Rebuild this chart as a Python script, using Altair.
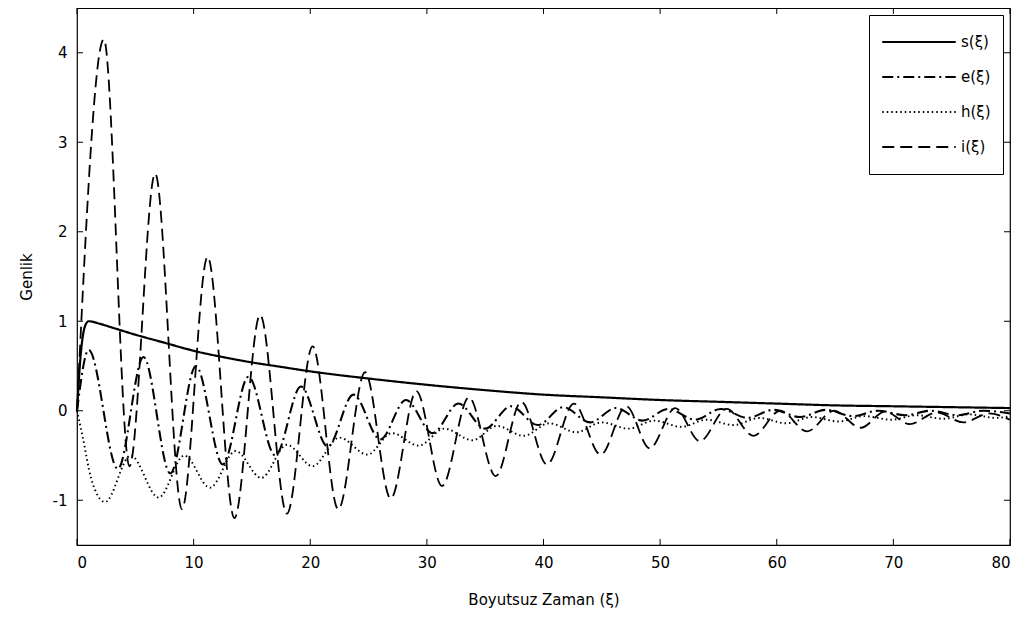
import altair as alt
import pandas as pd

# ---- data ----
series_names = ["s(ξ)", "e(ξ)", "h(ξ)", "i(ξ)"]

s_x = [0, 0.3, 0.7, 1.0, 2, 3, 5, 7.5, 10, 12.5, 15, 17.5, 20, 25, 30, 35, 40, 45, 50, 55, 60, 65, 70, 75, 80]
s_y = [0, 0.6, 0.95, 1.0, 0.97, 0.93, 0.85, 0.76, 0.67, 0.6, 0.54, 0.49, 0.44, 0.36, 0.29, 0.23, 0.18, 0.15, 0.12, 0.1, 0.08, 0.06, 0.05, 0.04, 0.03]

e_x = [0, 1.0, 3.5, 5.7, 8.0, 10.2, 12.5, 14.7, 17.0, 19.2, 21.5, 23.7, 26.0, 28.2, 30.5, 32.7, 35.0, 37.2, 39.5,
       41.7, 44.0, 46.2, 48.5, 50.7, 53.0, 55.2, 57.5, 59.7, 62.0, 64.2, 66.5, 68.7, 71.0, 73.2, 75.5, 77.7, 80]
e_y = [0, 0.68, -0.65, 0.6, -0.7, 0.5, -0.6, 0.38, -0.5, 0.27, -0.4, 0.18, -0.32, 0.12, -0.25, 0.08, -0.2, 0.05, -0.16,
       0.04, -0.13, 0.03, -0.11, 0.02, -0.1, 0.02, -0.08, 0.01, -0.07, 0.01, -0.06, 0.0, -0.05, 0.0, -0.05, 0.0, -0.03]

h_x = [0, 0.5, 1.2, 2.4, 4.6, 7.0, 9.2, 11.4, 13.6, 15.8, 18.0, 20.2, 22.5, 24.9, 27.0, 29.3, 31.5, 33.9, 36.0, 38.3,
       40.5, 42.8, 45.0, 47.3, 49.5, 51.8, 54.0, 56.3, 58.5, 60.8, 63.0, 65.3, 67.5, 69.8, 72.0, 74.3, 76.5, 78.8, 80]
h_y = [0, -0.3, -0.75, -1.02, -0.5, -0.97, -0.5, -0.86, -0.45, -0.75, -0.38, -0.62, -0.3, -0.49, -0.25, -0.39, -0.2, -0.33,
       -0.17, -0.28, -0.14, -0.24, -0.13, -0.2, -0.11, -0.18, -0.1, -0.16, -0.08, -0.14, -0.07, -0.12, -0.06, -0.1, -0.05,
       -0.09, -0.04, -0.08, -0.06]

i_x = [0, 2.3, 4.5, 6.7, 9.0, 11.2, 13.5, 15.7, 18.0, 20.2, 22.4, 24.7, 26.9, 29.1, 31.3, 33.6, 35.9, 38.1, 40.3,
       42.6, 44.9, 47.1, 49.1, 51.3, 53.4, 55.7, 58.0, 60.3, 62.6, 64.9, 67.2, 69.3, 71.4, 73.7, 76.0, 78.2, 80]
i_y = [0, 4.15, -0.62, 2.65, -1.1, 1.72, -1.2, 1.07, -1.15, 0.72, -1.1, 0.43, -0.98, 0.22, -0.84, 0.15, -0.73, 0.1, -0.6,
       0.08, -0.49, 0.05, -0.42, 0.03, -0.34, 0.02, -0.28, 0.0, -0.23, 0.0, -0.19, -0.01, -0.15, -0.02, -0.13, -0.03, -0.1]

x_ticks = [0, 10, 20, 30, 40, 50, 60, 70, 80]
y_ticks = [-1, 0, 1, 2, 3, 4]

rows = []
for name, xs, ys in [(series_names[0], s_x, s_y), (series_names[1], e_x, e_y),
                     (series_names[2], h_x, h_y), (series_names[3], i_x, i_y)]:
    for a, b in zip(xs, ys):
        rows.append({"xi": a, "val": b, "series": name})
df = pd.DataFrame(rows)

W, H = 933, 537
FONT = "DejaVu Sans"
FS = 15

xscale = alt.Scale(domain=[0, 80], nice=False, zero=False)
yscale = alt.Scale(domain=[-1.5, 4.5], nice=False, zero=False)

lines = alt.Chart(df).mark_line(interpolate="monotone", color="black").encode(
    x=alt.X("xi:Q", scale=xscale,
            axis=alt.Axis(title="Boyutsuz Zaman (ξ)", values=x_ticks, labelExpr="'' + datum.value",
                          ticks=False, domain=False, grid=False, labelPadding=10, titlePadding=22)),
    y=alt.Y("val:Q", scale=yscale,
            axis=alt.Axis(title="Genlik", values=y_ticks, labelExpr="'' + datum.value",
                          ticks=False, domain=False, grid=False, labelPadding=10, titlePadding=18)),
    strokeDash=alt.StrokeDash("series:N",
                              scale=alt.Scale(domain=series_names,
                                              range=[[1, 0], [11, 4, 2, 4], [1.5, 3], [12, 6]]),
                              legend=alt.Legend(title=None, orient="top-right", symbolType="stroke",
                                                symbolSize=5400, symbolStrokeWidth=2.2,
                                                symbolStrokeColor="black", labelFontSize=FS,
                                                labelFont=FONT, labelColor="black",
                                                strokeColor="black", fillColor="white",
                                                padding=12, clipHeight=30, rowPadding=5,
                                                offset=7, labelOffset=4)),
    strokeWidth=alt.StrokeWidth("series:N",
                                scale=alt.Scale(domain=series_names, range=[2.2, 1.8, 1.2, 3.2]),
                                legend=None),
    detail="series:N",
    order=alt.Order("xi:Q"),
)

xt = pd.DataFrame({"xi": x_ticks})
yt = pd.DataFrame({"val": y_ticks})

xb = alt.Chart(xt).mark_rule(color="black", strokeWidth=1).encode(
    x=alt.X("xi:Q", scale=xscale), y=alt.value(H), y2=alt.value(H - 6))
xtp = alt.Chart(xt).mark_rule(color="black", strokeWidth=1).encode(
    x=alt.X("xi:Q", scale=xscale), y=alt.value(0), y2=alt.value(6))
yl = alt.Chart(yt).mark_rule(color="black", strokeWidth=1).encode(
    y=alt.Y("val:Q", scale=yscale), x=alt.value(0), x2=alt.value(6))
yr = alt.Chart(yt).mark_rule(color="black", strokeWidth=1).encode(
    y=alt.Y("val:Q", scale=yscale), x=alt.value(W - 6), x2=alt.value(W))

chart = alt.layer(lines, xb, xtp, yl, yr).properties(
    width=W, height=H,
    autosize=alt.AutoSizeParams(type="none"),
    padding={"left": 69, "top": 0, "right": 6, "bottom": 65},
    background="white",
).configure_view(
    stroke="black", strokeWidth=1.2
).configure_axis(
    labelFont=FONT, titleFont=FONT, labelFontSize=FS, titleFontSize=FS,
    labelColor="black", titleColor="black", titleFontWeight="normal"
)

chart.save("out.html", embed_options={"renderer": "svg", "actions": False})
